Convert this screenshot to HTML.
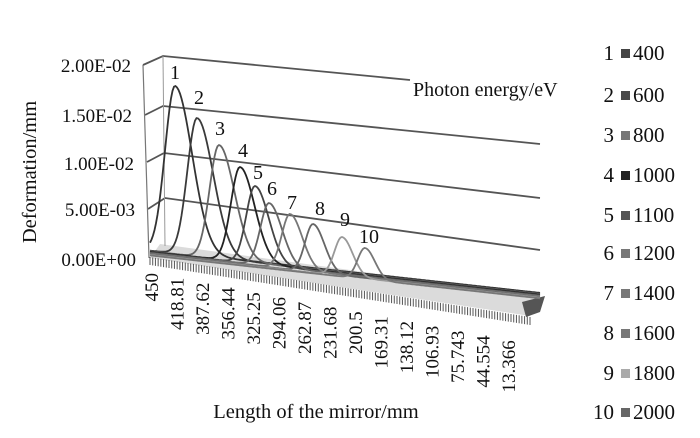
<!DOCTYPE html>
<html><head><meta charset="utf-8"><style>
html,body{margin:0;padding:0;background:#fff;}
svg{display:block;font-family:"Liberation Serif",serif;}
</style></head><body>
<svg id="s" width="700" height="438" viewBox="0 0 700 438" xmlns="http://www.w3.org/2000/svg">
<g stroke="#555" stroke-width="1.8" fill="none">
<polyline points="143,65 163,56 410,80"/>
<polyline points="145,115 163,106 540,144"/>
<polyline points="147,162 164,153 540,198"/>
<polyline points="148,209 165,198 540,250"/>
<line x1="143" y1="65" x2="149" y2="258" stroke="#777" stroke-width="1.2"/>
<line x1="163" y1="56" x2="165" y2="246" stroke="#999" stroke-width="1"/>
</g>
<polygon points="150,258 160,244 540,296 530,316" fill="#999" opacity="0.35"/>
<polygon points="522,302 545,296 540,312 526,317" fill="#555"/>
<g id="ticks" stroke="#555" stroke-width="1"></g>
<g id="curves" fill="none" stroke-width="1.8"></g>
<g font-size="19" fill="#111">
<text x="131" y="72" text-anchor="end">2.00E-02</text>
<text x="132" y="122" text-anchor="end">1.50E-02</text>
<text x="134" y="170" text-anchor="end">1.00E-02</text>
<text x="135" y="216" text-anchor="end">5.00E-03</text>
<text x="136" y="266" text-anchor="end">0.00E+00</text>
<text x="413" y="96" font-size="20">Photon energy/eV</text>
<text transform="translate(36,172) rotate(-90)" text-anchor="middle" font-size="20.5">Deformation/mm</text>
<text x="316" y="418" text-anchor="middle" font-size="20.5">Length of the mirror/mm</text>
<g font-size="20">
<text x="175" y="79" text-anchor="middle">1</text>
<text x="199" y="104" text-anchor="middle">2</text>
<text x="220" y="135" text-anchor="middle">3</text>
<text x="243" y="157" text-anchor="middle">4</text>
<text x="258" y="179" text-anchor="middle">5</text>
<text x="272" y="195" text-anchor="middle">6</text>
<text x="292" y="209" text-anchor="middle">7</text>
<text x="320" y="215" text-anchor="middle">8</text>
<text x="345" y="226" text-anchor="middle">9</text>
<text x="369" y="243" text-anchor="middle">10</text>
</g>
</g>
<g id="xl" font-size="19" fill="#111"></g>
<g id="leg" font-size="21" fill="#111"></g>
</svg>
<script>
var NS="http://www.w3.org/2000/svg";
function el(t,a,p,txt){var e=document.createElementNS(NS,t);for(var k in a)e.setAttribute(k,a[k]);if(txt!==undefined)e.textContent=txt;p.appendChild(e);return e;}
var tk=document.getElementById('ticks');
for(var i=0;i<=140;i++){var x=150+i*380/140,y=258+(x-150)*60/380;el('line',{x1:x,y1:y-1,x2:x,y2:y+7},tk);}
var peaks=[[175,86],[197,118],[219,145],[240,167],[255,186],[269,203],[290,214],[313,224],[342,237],[365,248]];
var cols=['#333','#3a3a3a','#666','#222','#444','#666','#777','#666','#999','#777'];
var cg=document.getElementById('curves');
peaks.forEach(function(p,i){
  var sl=10-i*0.3, sr=17-i*0.8, d='';
  var off=i*0.6;
  for(var x=150;x<=540;x+=1.5){
    var base=250+off+(x-150)*0.11;
    var pb=250+off+(p[0]-150)*0.11;
    var h=pb-p[1];
    var s=x<p[0]?sl:sr;
    var y=base-h*Math.exp(-Math.pow(x-p[0],2)/(2*s*s));
    d+=(d?' L':'M')+x.toFixed(1)+','+y.toFixed(1);
  }
  el('path',{d:d,stroke:cols[i]},cg);
});
var xl=document.getElementById('xl');
var labs=['450','418.81','387.62','356.44','325.25','294.06','262.87','231.68','200.5','169.31','138.12','106.93','75.743','44.554','13.366'];
labs.forEach(function(t,i){var x=152+i*25.5+6,y=273+i*4.8;el('text',{transform:'translate('+x+','+y+') rotate(-90)','text-anchor':'end'},xl,t);});
var lg=document.getElementById('leg');
var vals=['400','600','800','1000','1100','1200','1400','1600','1800','2000'];
var ys=[53,95,135,175,215,253,293,333,373,412];
var lc=['#444','#4a4a4a','#777','#222','#555','#777','#777','#777','#aaa','#666'];
vals.forEach(function(v,i){
  el('text',{x:614,y:ys[i]+7,'text-anchor':'end'},lg,String(i+1));
  el('rect',{x:621,y:ys[i]-4,width:9,height:9,fill:lc[i]},lg);
  el('text',{x:633,y:ys[i]+7},lg,v);
});
</script>
</body></html>
